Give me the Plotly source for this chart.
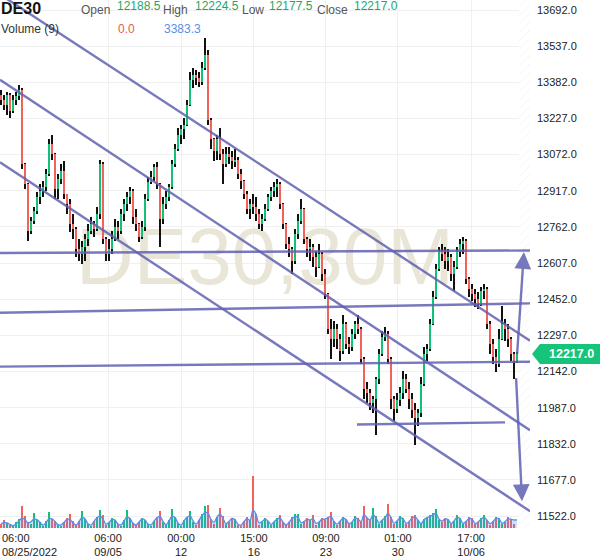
import plotly.graph_objects as go

# ---- data (~1 candle per 3 px) ----
first_open = 13329
closes = [13308, 13286, 13329, 13257, 13308, 13325, 13351, 13030, 12945, 12744,
          12787, 12829, 12889, 12915, 12932, 12987, 13116, 13073, 12923, 12966,
          13000, 12902, 12859, 12774, 12752, 12667, 12646, 12676, 12710, 12744,
          12774, 12752, 12817, 13030, 12710, 12646, 12667, 12710, 12761, 12744,
          12817, 12859, 12889, 12915, 12804, 12774, 12718, 12761, 12881, 12953,
          12975, 13017, 12945, 12795, 12859, 12889, 12932, 13030, 13094, 13158,
          13180, 13201, 13286, 13393, 13415, 13402, 13385, 13444, 13500, 13222,
          13137, 13086, 13137, 13073, 13030, 13073, 13060, 13043, 13051, 12987,
          12957, 12902, 12838, 12859, 12846, 12817, 12774, 12795, 12838, 12889,
          12915, 12932, 12945, 12859, 12774, 12688, 12667, 12616, 12731, 12787,
          12838, 12710, 12667, 12676, 12633, 12590, 12646, 12560, 12475, 12325,
          12283, 12325, 12283, 12231, 12347, 12261, 12248, 12304, 12347, 12325,
          12197, 12069, 12048, 12005, 12026, 12112, 12218, 12291, 12304, 12197,
          12026, 11983, 12018, 12048, 12112, 12069, 12026, 11975, 11941, 11962,
          12090, 12218, 12240, 12347, 12462, 12582, 12658, 12646, 12616, 12633,
          12560, 12590, 12658, 12688, 12701, 12539, 12496, 12475, 12453, 12432,
          12488, 12496, 12347, 12261, 12206, 12176, 12283, 12347, 12325, 12283,
          12218, 12188.5, 12217.0]
highs = [13351, 13329, 13342, 13335, 13329, 13342, 13372, 13359, 13035, 12950,
         12804, 12846, 12910, 12945, 12957, 13009, 13137, 13158, 13080, 12987,
         13030, 13043, 12902, 12881, 12817, 12761, 12710, 12701, 12731, 12774,
         12804, 12787, 12846, 13051, 13040, 12718, 12710, 12744, 12795, 12787,
         12838, 12881, 12910, 12932, 12925, 12838, 12780, 12787, 12902, 12975,
         13000, 13030, 13039, 12950, 12889, 12915, 12945, 13051, 13116, 13188,
         13201, 13231, 13308, 13427, 13444, 13436, 13427, 13470, 13573, 13521,
         13231, 13145, 13158, 13188, 13094, 13103, 13103, 13086, 13094, 13060,
         13009, 12965, 12915, 12881, 12902, 12889, 12838, 12817, 12859, 12902,
         12932, 12953, 12966, 12955, 12865, 12780, 12718, 12676, 12752, 12817,
         12881, 12845, 12718, 12710, 12688, 12658, 12688, 12655, 12582, 12480,
         12368, 12359, 12347, 12304, 12385, 12355, 12291, 12325, 12359, 12385,
         12335, 12205, 12099, 12069, 12035, 12120, 12240, 12317, 12334, 12315,
         12205, 12035, 12048, 12077, 12146, 12133, 12099, 12048, 12005, 11983,
         12120, 12248, 12261, 12368, 12488, 12603, 12676, 12688, 12676, 12667,
         12646, 12616, 12676, 12710, 12718, 12710, 12547, 12518, 12496, 12483,
         12505, 12518, 12505, 12359, 12283, 12240, 12325, 12424, 12368, 12347,
         12291, 12225, 12224.5]
lows = [13286, 13265, 13244, 13231, 13250, 13286, 13308, 13009, 12923, 12701,
        12731, 12774, 12817, 12859, 12889, 12915, 12980, 13051, 12881, 12881,
        12945, 12881, 12817, 12740, 12710, 12633, 12616, 12603, 12616, 12680,
        12731, 12718, 12745, 12795, 12688, 12616, 12616, 12646, 12701, 12710,
        12731, 12787, 12829, 12859, 12774, 12744, 12697, 12710, 12744, 12875,
        12945, 12957, 12923, 12676, 12774, 12838, 12872, 12923, 13017, 13086,
        13116, 13137, 13195, 13280, 13359, 13372, 13363, 13372, 13436, 13201,
        13094, 13043, 13051, 13051, 12945, 13017, 13030, 13009, 13017, 12966,
        12923, 12881, 12817, 12795, 12817, 12787, 12752, 12744, 12787, 12829,
        12872, 12889, 12889, 12838, 12752, 12667, 12633, 12560, 12605, 12710,
        12774, 12688, 12633, 12616, 12590, 12547, 12585, 12530, 12453, 12304,
        12197, 12248, 12240, 12189, 12218, 12240, 12218, 12231, 12283, 12304,
        12176, 12026, 12005, 11975, 11962, 11868, 12090, 12210, 12274, 12176,
        11983, 11928, 11962, 11992, 12026, 12048, 11983, 11941, 11825, 11907,
        11949, 12080, 12189, 12232, 12340, 12455, 12573, 12616, 12582, 12573,
        12530, 12488, 12580, 12633, 12646, 12518, 12462, 12445, 12419, 12411,
        12425, 12453, 12325, 12218, 12176, 12142, 12163, 12275, 12274, 12248,
        12189, 12112, 12177.5]
volumes = [1700, 3400, 2100, 1300, 800, 2500, 3800, 9200, 5000, 2600,
           1500, 6300, 3400, 2500, 900, 3000, 6700, 3800, 2900, 1200,
           900, 2700, 4200, 5900, 2800, 1100, 3000, 7100, 4000, 1700,
           800, 2900, 4600, 7600, 5400, 1300, 2400, 4200, 3300, 1500,
           900, 3200, 7600, 4300, 2100, 1200, 2700, 4400, 3500, 1600,
           1000, 3100, 4800, 7100, 2600, 1100, 3400, 8000, 4600, 1900,
           900, 3300, 4700, 7100, 2700, 1300, 3500, 6000, 9200, 9700,
           3800, 1600, 4500, 8400, 5200, 1500, 2600, 4300, 3600, 1400,
           900, 2800, 4600, 3200, 21800, 5800, 1400, 2700, 4200, 3000,
           1200, 2600, 4300, 5500, 2600, 1100, 2500, 4800, 5900, 5900,
           1700, 2900, 4200, 3300, 5500, 1300, 2600, 4400, 3900, 4800,
           6700, 2800, 1300, 3100, 4800, 3600, 1500, 2500, 5200, 4100,
           2400, 9200, 4300, 3200, 8400, 5000, 1600, 3400, 4900, 10000,
           4700, 1600, 3000, 5100, 4200, 1700, 2700, 4900, 5600, 3300,
           1500, 3900, 4600, 5400, 6200, 8000, 3300, 2600, 4300, 3900,
           1700, 3000, 5500, 4200, 1600, 2800, 4700, 4100, 1500, 2600,
           4200, 5500, 3300, 1400, 2800, 4800, 4300, 1600, 2700, 4500,
           3900, 1800, 0]
volume_ma = [1800, 2400, 2200, 1500,
             1000, 1800, 3000, 4200, 3600, 2200, 2600, 3800, 3500, 2400,
             1200, 2300, 3900, 3900, 2800, 1400, 1300, 2400, 3600, 3600,
             2200, 1300, 2700, 4400, 3900, 1800, 1200, 2800, 4300, 5000,
             3800, 1600, 2300, 3600, 3300, 1700, 1300, 3000, 4700, 4000,
             2000, 1300, 2500, 3800, 3400, 1700, 1300, 2900, 4300, 4900,
             2800, 1400, 3000, 5000, 4400, 2100, 1200, 3000, 4500, 5200,
             3000, 1600, 3300, 5200, 6500, 6300, 3500, 2400, 4600, 5800,
             4100, 1800, 2800, 4000, 3500, 1600, 1200, 2700, 3900, 3300,
             7500, 5800, 2200, 2700, 3700, 3000, 1500, 2600, 3800, 4200,
             2500, 1300, 2400, 3900, 4800, 4600, 2200, 2700, 3700, 3400,
             3900, 2000, 2500, 3700, 3700, 4400, 4900, 2700, 1600, 2900,
             4100, 3600, 1800, 2500, 4200, 3800, 2600, 5600, 4300, 3400,
             5500, 4300, 2100, 3300, 4300, 6200, 4400, 2100, 3000, 4300,
             3900, 2000, 2700, 4200, 4700, 3300, 1800, 3500, 4400, 4900,
             5600, 6200, 3800, 2900, 3800, 3600, 1900, 3000, 4500, 4000,
             2000, 2700, 4000, 3800, 1900, 2500, 3700, 4500, 3300, 1800,
             2700, 4100, 3900, 2000, 2700,
             3800, 3700, 3400, 3383.3]

price_ticks = [13692.0, 13537.0, 13382.0, 13227.0, 13072.0, 12917.0, 12762.0, 12607.0,
               12452.0, 12297.0, 12142.0, 11987.0, 11832.0, 11677.0, 11522.0]
time_tick_pos = [35.67, 60.0, 84.3, 108.3, 132.3, 156.7]
time_tick_text = ['06:00<br>09/05', '00:00<br>12', '15:00<br>16', '09:00<br>23', '01:00<br>30', '17:00<br>10/06']
first_tick_text = '06:00<br>08/25/2022'

# drawn objects: (bar index, price) pairs
trend_lines = [(-0.33, 13759, 176.33, 12274),
               (-0.33, 13393, 176.33, 11890),
               (-0.33, 13039, 176.33, 11543),
               (-0.33, 12650, 176.33, 12661),
               (-0.33, 12394, 176.33, 12434),
               (-0.33, 12163, 176.33, 12184),
               (118.67, 11915, 168.0, 11924)]
arrows = [(172.0, 12210, 174.3, 12654),   # tail -> head
          (171.67, 12120, 173.67, 11586)]

last = dict(open=12188.5, high=12224.5, low=12177.5, close=12217.0, vol=0.0, vol_ma=3383.3)

UP = '#13c176'
DOWN = '#f2625b'
LINE = 'rgba(96,96,178,0.85)'
FONT = 'Liberation Sans, Arial, sans-serif'

x_range = [-0.33, 176.33]
y_range = [11471, 13735]
vol_range = [0, 222600]

opens = [first_open] + closes[:-1]
idx = list(range(len(closes)))

fig = go.Figure()

# watermark, on the bottom subplot so it sits under the candles
fig.add_trace(go.Scatter(x=[sum(x_range) / 2], y=[0.50], mode='text', text=['DE30,30M'],
                         textfont=dict(size=80, color='#e9e5d7', family=FONT),
                         hoverinfo='skip', showlegend=False, yaxis='y'))

# hatched "future" strip right of the last bar
fig.add_trace(go.Bar(x=[(idx[-1] + 0.6 + x_range[1]) / 2], y=[y_range[1] - y_range[0]], base=[y_range[0]],
                     width=[x_range[1] - idx[-1] - 0.6],
                     marker=dict(color='white', line_width=0,
                                 pattern=dict(shape='/', fgcolor='#e4e4e4', bgcolor='white', size=6, solidity=0.15)),
                     hoverinfo='skip', showlegend=False, yaxis='y2'))

# wicks (black), then bodies on top
body_colors = [UP if c >= o else DOWN for o, c in zip(opens, closes)]
fig.add_trace(go.Bar(x=idx, y=[h - l for h, l in zip(highs, lows)], base=lows, width=0.55,
                     marker=dict(color='#111111', line_width=0), hoverinfo='skip',
                     showlegend=False, yaxis='y2'))
fig.add_trace(go.Bar(x=idx, y=[abs(c - o) for o, c in zip(opens, closes)],
                     base=[min(o, c) for o, c in zip(opens, closes)], width=0.8,
                     marker=dict(color=body_colors, line_width=0),
                     showlegend=False, yaxis='y2'))

# volume + MA(9)
fig.add_trace(go.Bar(x=idx, y=volumes, width=0.5, marker=dict(color=body_colors, line_width=0),
                     showlegend=False, yaxis='y3'))
fig.add_trace(go.Scatter(x=idx, y=volume_ma, mode='lines', line=dict(color='#5b8def', width=1.3, shape='spline'),
                         fill='tozeroy', fillcolor='rgba(91,141,239,0.28)', showlegend=False, yaxis='y3'))

for x0, y0, x1, y1 in trend_lines:
    fig.add_shape(type='line', xref='x', yref='y2', x0=x0, y0=y0, x1=x1, y1=y1,
                  line=dict(color=LINE, width=2.4))

annotations = []
for tx, ty, hx, hy in arrows:
    annotations.append(dict(x=hx, y=hy, ax=tx, ay=ty, xref='x', yref='y2', axref='x', ayref='y2',
                            text='', showarrow=True, arrowhead=2, arrowsize=1.4, arrowwidth=2.4,
                            arrowcolor=LINE))

W, H = 530.0, 530.0  # plot area in px


def head(text, px, py, color, size=12, bold=False):
    annotations.append(dict(text='<b>%s</b>' % text if bold else text, x=px / W, y=1 - py / H,
                            xref='paper', yref='paper', xanchor='left', yanchor='middle',
                            showarrow=False, font=dict(family=FONT, size=size, color=color)))


GREEN_TXT = '#1aa866'
head('DE30', -1, 9, '#111111', size=16, bold=True)
head('Open', 79, 10, '#555555')
head('%.1f' % last['open'], 115, 6, GREEN_TXT)
head('High', 161, 10, '#555555')
head('%.1f' % last['high'], 193, 6, GREEN_TXT)
head('Low', 240, 10, '#555555')
head('%.1f' % last['low'], 267, 6, GREEN_TXT)
head('Close', 315, 10, '#555555')
head('%.1f' % last['close'], 352, 6, GREEN_TXT)
head('Volume (9)', -1, 29, '#333333')
head('%.1f' % last['vol'], 116, 29, '#e8594f')
head('%.1f' % last['vol_ma'], 162, 29, '#5a8ee6')

# first time label, pinned to the left edge
annotations.append(dict(text=first_tick_text, x=0, y=0, xref='paper', yref='paper', xanchor='left',
                        yanchor='top', yshift=-2, showarrow=False, align='left',
                        font=dict(family=FONT, size=11, color='#222222')))

# last price marker on the price scale
py_last = (last['close'] - y_range[0]) / (y_range[1] - y_range[0])
half = 10 / H
fig.add_shape(type='path', xref='paper', yref='paper', fillcolor='#15c47a', line_width=0, layer='below',
              path='M %f,%f L %f,%f L %f,%f L %f,%f L %f,%f Z' % (
                  532 / W, py_last, 540 / W, py_last + half, 600 / W, py_last + half,
                  600 / W, py_last - half, 540 / W, py_last - half))
annotations.append(dict(text='<b>%.1f</b>' % last['close'], x=571 / W, y=py_last, xref='paper', yref='paper',
                        xanchor='center', yanchor='middle', showarrow=False,
                        font=dict(family=FONT, size=12.5, color='white')))

fig.update_layout(
    width=600, height=558,
    margin=dict(l=0, r=70, t=0, b=28),
    paper_bgcolor='white', plot_bgcolor='rgba(0,0,0,0)',
    barmode='overlay', bargap=0,
    showlegend=False,
    font=dict(family=FONT, size=11, color='#222222'),
    xaxis=dict(range=x_range, tickvals=time_tick_pos, ticktext=time_tick_text,
               showgrid=True, gridcolor='#f0f0f0', zeroline=False, showline=False, ticks='',
               ticklabelstandoff=2,
               rangeslider=dict(visible=False), tickfont=dict(size=11, color='#222222')),
    yaxis=dict(range=[0, 1], visible=False),
    yaxis2=dict(overlaying='y', side='right', anchor='x', range=y_range, tickvals=price_ticks,
                ticktext=['%.1f' % t for t in price_ticks], showgrid=True, gridcolor='#f0f0f0',
                zeroline=False, showline=False, ticks='', ticklabelstandoff=6,
                tickfont=dict(size=11, color='#222222')),
    yaxis3=dict(overlaying='y', range=vol_range, visible=False),
    annotations=annotations,
)

fig.write_html("out.html", config={'displayModeBar': False},
               post_script="document.body.style.margin='0px';")
